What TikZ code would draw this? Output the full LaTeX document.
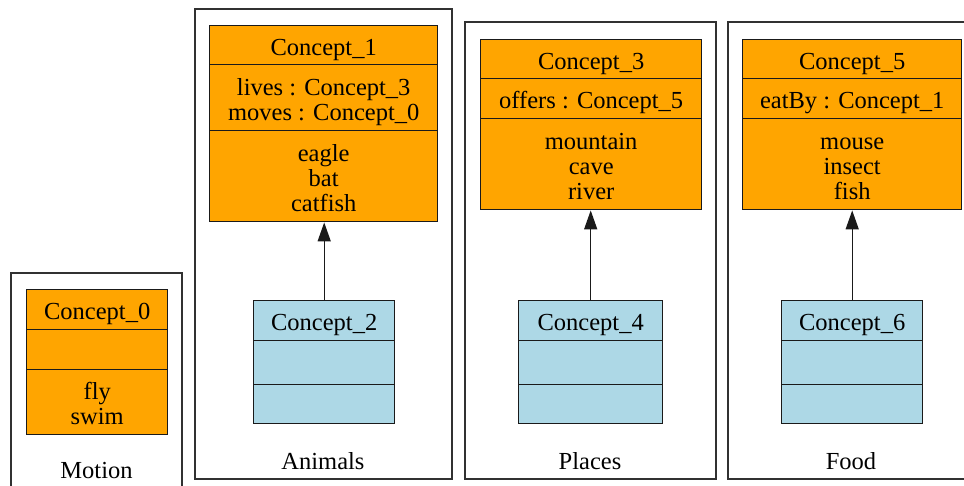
\documentclass[tikz,border=0pt]{standalone}
\usepackage{fontspec}
\setmainfont{Liberation Serif}
\usetikzlibrary{arrows.meta}
\definecolor{orangec}{HTML}{FFA500}
\definecolor{bluec}{HTML}{ADD8E6}
\definecolor{edgec}{HTML}{1A1A1A}
\newcommand{\umlfont}{\fontsize{24.5}{25}\selectfont}
\newcommand{\tsx}{\rule{0pt}{26.5pt}}
\newcommand{\bsx}{\rule[-6pt]{0pt}{6pt}}
\tikzset{
  comp/.style={draw=edgec, line width=1.4pt, inner sep=0pt, anchor=north west, align=center, font=\umlfont},
  org/.style={comp, fill=orangec},
  blu/.style={comp, fill=bluec},
  clusterline/.style={draw=edgec!90, line width=1.6pt},
  clabel/.style={font=\umlfont, inner sep=0pt},
  inherit/.style={draw=edgec, line width=1.4pt, -{Triangle[length=19pt,width=13pt]}}
}
\begin{document}
\begin{tikzpicture}[x=1pt,y=-1pt]
\useasboundingbox (0,0) rectangle (964,485);
% clusters
\draw[clusterline] (11,486) -- (11,273) -- (182,273) -- (182,486);
\draw[clusterline] (195,9) rectangle (452,479);
\draw[clusterline] (465,22) rectangle (716,479);
\draw[clusterline] (966,22) -- (728,22) -- (728,479) -- (966,479);
\node[clabel] (lmotion) at (96.5,471) {Motion};
\node[clabel] (lanimals) at (323,461) {Animals};
\node[clabel] (lplaces) at (590,461) {Places};
\node[clabel] (lfood) at (851,461) {Food};
% Concept_0
\node[org, minimum width=141pt, minimum height=40pt] (c0a) at (26,289) {\tsx Concept\_0\bsx};
\node[org, minimum width=141pt, minimum height=40pt] (c0b) at (26,329) {};
\node[org, minimum width=141pt, minimum height=65pt] (c0c) at (26,369) {\tsx fly\\swim\bsx};
% Concept_1
\node[org, minimum width=228pt, minimum height=39pt] (c1a) at (209,25) {\tsx Concept\_1\bsx};
\node[org, minimum width=228pt, minimum height=66pt] (c1b) at (209,64) {\tsx lives : Concept\_3\\moves : Concept\_0\bsx};
\node[org, minimum width=228pt, minimum height=91pt] (c1c) at (209,130) {\tsx eagle\\bat\\catfish\bsx};
% Concept_2
\node[blu, minimum width=141pt, minimum height=40pt] (c2a) at (253,300) {\tsx Concept\_2\bsx};
\node[blu, minimum width=141pt, minimum height=44pt] (c2b) at (253,340) {};
\node[blu, minimum width=141pt, minimum height=39pt] (c2c) at (253,384) {};
% Concept_3
\node[org, minimum width=221pt, minimum height=39pt] (c3a) at (480,39) {\tsx Concept\_3\bsx};
\node[org, minimum width=221pt, minimum height=40pt] (c3b) at (480,78) {\tsx offers : Concept\_5\bsx};
\node[org, minimum width=221pt, minimum height=91pt] (c3c) at (480,118) {\tsx mountain\\cave\\river\bsx};
% Concept_4
\node[blu, minimum width=144pt, minimum height=40pt] (c4a) at (518,300) {\tsx Concept\_4\bsx};
\node[blu, minimum width=144pt, minimum height=44pt] (c4b) at (518,340) {};
\node[blu, minimum width=144pt, minimum height=39pt] (c4c) at (518,384) {};
% Concept_5
\node[org, minimum width=219pt, minimum height=39pt] (c5a) at (742,39) {\tsx Concept\_5\bsx};
\node[org, minimum width=219pt, minimum height=40pt] (c5b) at (742,78) {\tsx eatBy : Concept\_1\bsx};
\node[org, minimum width=219pt, minimum height=91pt] (c5c) at (742,118) {\tsx mouse\\insect\\fish\bsx};
% Concept_6
\node[blu, minimum width=141pt, minimum height=40pt] (c6a) at (781,300) {\tsx Concept\_6\bsx};
\node[blu, minimum width=141pt, minimum height=44pt] (c6b) at (781,340) {};
\node[blu, minimum width=141pt, minimum height=39pt] (c6c) at (781,384) {};
% inheritance arrows
\draw[inherit] (c2a.north) -- (c2a.north |- c1c.south);
\draw[inherit] (c4a.north) -- (c4a.north |- c3c.south);
\draw[inherit] (c6a.north) -- (c6a.north |- c5c.south);
\end{tikzpicture}
\end{document}
